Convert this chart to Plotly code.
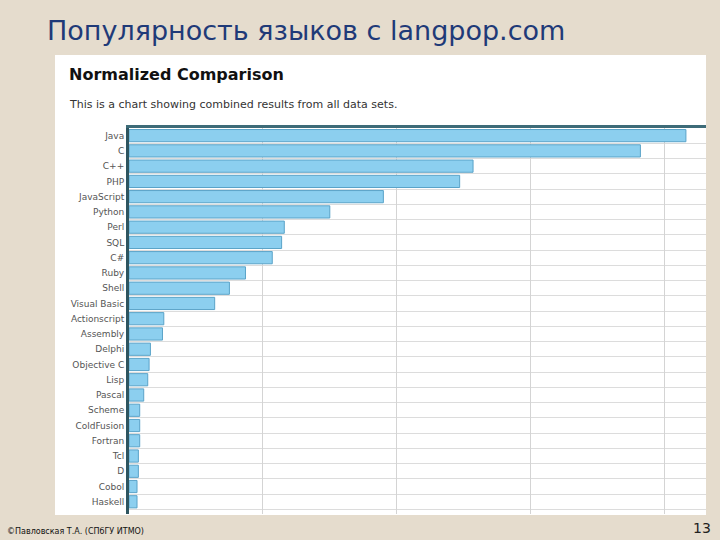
import plotly.graph_objects as go

languages = ["Java", "C", "C++", "PHP", "JavaScript", "Python", "Perl", "SQL", "C#",
             "Ruby", "Shell", "Visual Basic", "Actionscript", "Assembly", "Delphi",
             "Objective C", "Lisp", "Pascal", "Scheme", "ColdFusion", "Fortran",
             "Tcl", "D", "Cobol", "Haskell"]
scores = [4.16, 3.82, 2.57, 2.47, 1.90, 1.50, 1.16, 1.14, 1.07, 0.87, 0.75, 0.64,
          0.26, 0.25, 0.16, 0.15, 0.14, 0.11, 0.08, 0.08, 0.08, 0.07, 0.07, 0.06, 0.06]

W, H = 720, 540
pos = list(range(len(languages)))

fig = go.Figure(go.Bar(
    x=scores, y=pos, orientation="h", width=0.8,
    marker=dict(color="#8ccfef", line=dict(color="#5aa3c8", width=1)),
))

# white screenshot panel
fig.add_shape(type="rect", xref="paper", yref="paper",
              x0=55 / W, x1=706 / W, y0=1 - 515 / H, y1=1 - 55 / H,
              fillcolor="white", line_width=0, layer="below")

fig.update_layout(
    width=W, height=H,
    margin=dict(l=0, r=0, t=0, b=0),
    paper_bgcolor="#e5dccd", plot_bgcolor="white",
    showlegend=False, bargap=0.2,
    xaxis=dict(domain=[129 / W, 706 / W], range=[0, 4.31], dtick=1,
               showticklabels=False, gridcolor="#d4d4d4", zeroline=False,
               showline=True, mirror=False, side="top", linecolor="#3d6b78",
               linewidth=3),
    yaxis=dict(domain=[1 - 514 / H, 1 - 128 / H], range=[24.8, -0.5],
               tickvals=pos, ticktext=languages, showgrid=False, ticks="",
               tickfont=dict(family="DejaVu Sans", size=9, color="#555"),
               showline=True, linecolor="#2e5560", linewidth=3, zeroline=False,
               minor=dict(tickvals=[p + 0.5 for p in pos], showgrid=True,
                          gridcolor="#dcdcdc", ticks="")),
    annotations=[
        dict(text="Популярность языков с langpop.com", x=45 / W, y=1 - 31 / H,
             xref="paper", yref="paper", xanchor="left", yanchor="middle",
             showarrow=False, font=dict(family="DejaVu Sans", size=27, color="#1f3a78")),
        dict(text="<b>Normalized Comparison</b>", x=67 / W, y=1 - 74 / H,
             xref="paper", yref="paper", xanchor="left", yanchor="middle",
             showarrow=False, font=dict(family="DejaVu Sans", size=16, color="#111")),
        dict(text="This is a chart showing combined results from all data sets.",
             x=67 / W, y=1 - 104 / H, xref="paper", yref="paper", xanchor="left",
             yanchor="middle", showarrow=False,
             font=dict(family="DejaVu Sans", size=11, color="#333")),
        dict(text="©Павловская Т.А. (СПбГУ ИТМО)", x=5 / W, y=1 - 531 / H,
             xref="paper", yref="paper", xanchor="left", yanchor="middle",
             showarrow=False, font=dict(family="DejaVu Sans", size=8, color="#111")),
        dict(text="13", x=713 / W, y=1 - 528 / H, xref="paper", yref="paper",
             xanchor="right", yanchor="middle", showarrow=False,
             font=dict(family="DejaVu Sans", size=14, color="#222")),
    ],
)

fig.write_html("out.html", config={"displayModeBar": False},
               post_script="document.body.style.margin='0';")
